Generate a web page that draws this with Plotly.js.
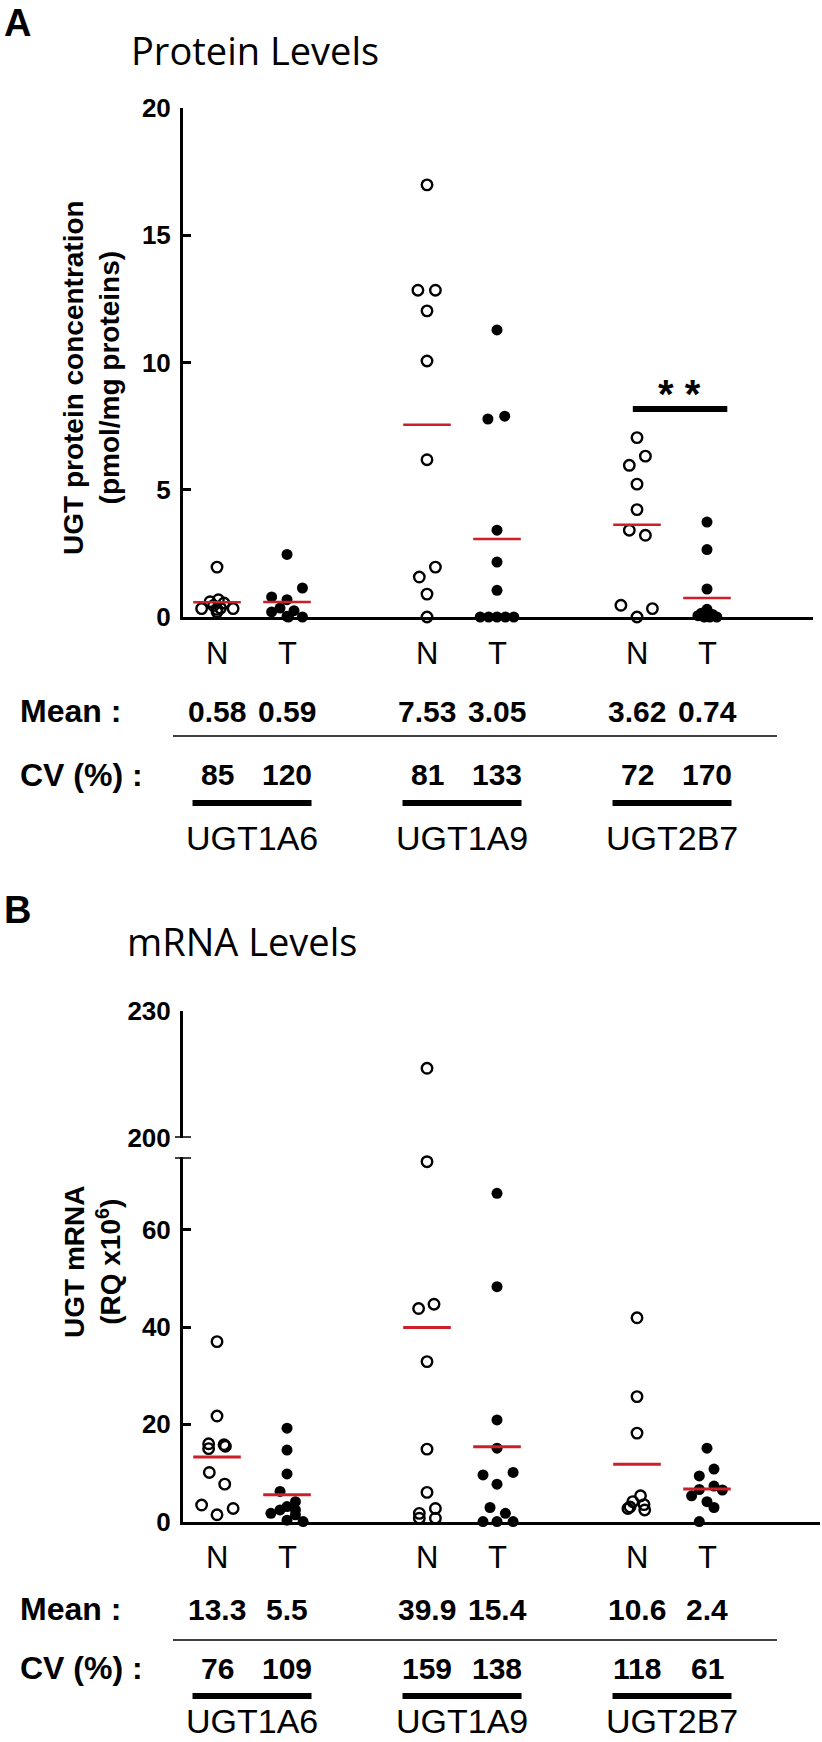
<!DOCTYPE html>
<html><head><meta charset="utf-8">
<script src="https://cdn.plot.ly/plotly-3.0.1.min.js"></script>
<style>html,body{margin:0;padding:0;background:#fff}#chart{width:822px;height:1742px}</style>
</head><body><div id="chart"></div>
<script>
// ---------------- DATA ----------------
const genes = ['UGT1A6', 'UGT1A9', 'UGT2B7'];
const tissueLabels = ['N', 'T', 'N', 'T', 'N', 'T'];

// Panel A : protein (pmol/mg proteins)
const prot_1A6_N = [1.96, 0.68, 0.60, 0.55, 0.45, 0.35, 0.33, 0.33, 0.30, 0.20];
const prot_1A6_T = [2.46, 1.14, 0.79, 0.68, 0.35, 0.25, 0.20, 0.03, 0.0, 0.0];
const prot_1A9_N = [16.98, 12.84, 12.84, 12.03, 10.06, 6.18, 1.96, 1.57, 0.90, 0.0];
const prot_1A9_T = [11.28, 7.89, 7.78, 3.41, 2.16, 1.05, 0.0, 0.0, 0.0, 0.0, 0.0];
const prot_2B7_N = [7.05, 6.32, 5.96, 5.22, 4.22, 3.41, 3.21, 0.46, 0.33, 0.0];
const prot_2B7_T = [3.73, 2.65, 1.10, 0.30, 0.15, 0.10, 0.05, 0.0, 0.0, 0.0];
const protMeanLine = [0.58, 0.59, 7.55, 3.06, 3.62, 0.75];
const protMeanText = ['0.58', '0.59', '7.53', '3.05', '3.62', '0.74'];
const protCvText = ['85', '120', '81', '133', '72', '170'];
const protSigBar = 8.17;

// Panel B : mRNA (RQ x10^6)
const mrna_1A6_N = [37.0, 21.7, 16.0, 15.8, 15.5, 15.0, 10.1, 7.7, 3.4, 2.7, 1.4];
const mrna_1A6_T = [19.2, 14.7, 9.8, 6.2, 4.1, 3.1, 2.4, 2.4, 1.7, 1.4, 0.3, 0.0];
const mrna_1A9_N = [216.4, 74.0, 44.7, 43.8, 32.9, 14.9, 6.0, 2.7, 1.7, 0.7, 0.7];
const mrna_1A9_T = [67.5, 48.3, 20.9, 15.1, 10.1, 9.6, 7.7, 2.9, 1.7, 0.0, 0.0, 0.0];
const mrna_2B7_N = [41.9, 25.7, 18.2, 5.3, 4.1, 3.5, 3.0, 2.7, 2.4];
const mrna_2B7_T = [15.1, 10.8, 9.4, 7.3, 6.6, 6.5, 5.3, 4.1, 2.9, 0.0];
const mrnaMeanLine = [13.3, 5.5, 39.9, 15.4, 11.8, 6.7];
const mrnaMeanText = ['13.3', '5.5', '39.9', '15.4', '10.6', '2.4'];
const mrnaCvText = ['76', '109', '159', '138', '118', '61'];

// ---------------- LAYOUT HELPERS (positions / jitter) ----------------
const tissuePos = [1, 2, 4, 5, 7, 8];
const jitA = [
  [0, 0.02, -0.1, 0.1, -0.05, 0.05, -0.22, 0.23, 0, 0],
  [0, 0.22, -0.22, 0, -0.1, 0.1, -0.22, 0, 0.22, 0.02],
  [0, -0.13, 0.12, 0, 0, 0, 0.12, -0.11, 0, 0],
  [0, 0.11, -0.13, 0, 0, 0, -0.24, -0.12, 0, 0.12, 0.24],
  [0, 0.12, -0.11, 0, 0, -0.11, 0.12, -0.23, 0.22, 0],
  [0, 0, 0, 0, -0.08, 0.08, -0.13, 0.14, -0.04, 0.04]
];
const jitB = [
  [0, 0, -0.12, 0.1, 0.12, -0.12, -0.11, 0.11, -0.22, 0.23, 0],
  [0, 0, 0, -0.1, 0.12, 0, -0.1, 0.12, -0.23, 0.12, 0, 0.23],
  [0, 0, 0.1, -0.12, 0, 0, 0, 0.12, -0.11, -0.11, 0.12],
  [0, 0, 0, 0, 0.23, -0.2, 0, -0.1, 0.12, -0.2, 0, 0.23],
  [0, 0, 0, 0.05, -0.06, 0.1, -0.1, -0.13, 0.11],
  [0, 0.1, -0.11, 0.1, -0.11, 0.22, -0.22, 0, 0.1, -0.11]
];
const protSets = [prot_1A6_N, prot_1A6_T, prot_1A9_N, prot_1A9_T, prot_2B7_N, prot_2B7_T];
const mrnaSets = [mrna_1A6_N, mrna_1A6_T, mrna_1A9_N, mrna_1A9_T, mrna_2B7_N, mrna_2B7_T];

const W = 822, H = 1742;
const px = v => v / W;
const py = v => 1 - v / H;
const FONT = 'Liberation Sans, Arial, sans-serif';
const TITLEFONT = 'Open Sans, Noto Sans, sans-serif';
const RED = '#cc1f27';
const groupCentre = [0, 1, 2].map(i => (tissuePos[2 * i] + tissuePos[2 * i + 1]) / 2);

function markerFor(i) {
  return i % 2 === 0
    ? {symbol: 'circle-open', size: 10.5, color: '#000', line: {width: 2.4, color: '#000'}}
    : {symbol: 'circle', size: 11, color: '#000', line: {width: 0}};
}

const traces = [];
protSets.forEach((vals, i) => {
  traces.push({
    type: 'scatter', mode: 'markers', xaxis: 'x', yaxis: 'y',
    x: vals.map((v, k) => tissuePos[i] + jitA[i][k]), y: vals,
    marker: markerFor(i), cliponaxis: false, hoverinfo: 'y', showlegend: false
  });
});
{
  const xs = [], ys = [];
  protMeanLine.forEach((m, i) => { xs.push(tissuePos[i] - 0.34, tissuePos[i] + 0.34, null); ys.push(m, m, null); });
  traces.push({type: 'scatter', mode: 'lines', xaxis: 'x', yaxis: 'y', x: xs, y: ys,
    line: {color: RED, width: 2.5}, cliponaxis: false, hoverinfo: 'skip', showlegend: false});
}
mrnaSets.forEach((vals, i) => {
  const lowX = [], lowY = [], upX = [], upY = [];
  vals.forEach((v, k) => {
    const xv = tissuePos[i] + jitB[i][k];
    if (v >= 200) { upX.push(xv); upY.push(v); } else { lowX.push(xv); lowY.push(v); }
  });
  traces.push({type: 'scatter', mode: 'markers', xaxis: 'x2', yaxis: 'y2', x: lowX, y: lowY,
    marker: markerFor(i), cliponaxis: false, hoverinfo: 'y', showlegend: false});
  if (upX.length) traces.push({type: 'scatter', mode: 'markers', xaxis: 'x2', yaxis: 'y3', x: upX, y: upY,
    marker: markerFor(i), cliponaxis: false, hoverinfo: 'y', showlegend: false});
});
{
  const xs = [], ys = [];
  mrnaMeanLine.forEach((m, i) => { xs.push(tissuePos[i] - 0.34, tissuePos[i] + 0.34, null); ys.push(m, m, null); });
  traces.push({type: 'scatter', mode: 'lines', xaxis: 'x2', yaxis: 'y2', x: xs, y: ys,
    line: {color: RED, width: 3}, cliponaxis: false, hoverinfo: 'skip', showlegend: false});
}

const yTickFont = {family: FONT, size: 26, color: '#000', weight: 'bold'};

function xAxis(anchor, rightPx) {
  return {domain: [px(183), px(rightPx)], range: [0.514, 1 + (rightPx - 217) / 70], anchor: anchor,
    showline: true, linewidth: 3, linecolor: '#000', ticks: '', showticklabels: false,
    showgrid: false, zeroline: false, fixedrange: true};
}
function yAxis(domain, range, tickvals, anchor) {
  return {domain: domain, range: range, anchor: anchor, showline: true, linewidth: 3, linecolor: '#000',
    ticks: 'inside', ticklen: 8, tickwidth: 3, tickcolor: '#000', tickvals: tickvals, tickfont: yTickFont,
    ticklabelstandoff: 4, showgrid: false, zeroline: false, fixedrange: true};
}

const layout = {
  width: W, height: H, margin: {l: 0, r: 0, t: 0, b: 0}, paper_bgcolor: '#fff', plot_bgcolor: 'rgba(0,0,0,0)',
  showlegend: false, font: {family: FONT, color: '#000'},
  xaxis: xAxis('y', 813),
  yaxis: yAxis([py(617), py(108)], [0, 20], [0, 5, 10, 15, 20], 'x'),
  xaxis2: xAxis('y2', 820),
  yaxis2: yAxis([py(1521.6), py(1157.3)], [0, 74.9], [0, 20, 40, 60], 'x2'),
  yaxis3: yAxis([py(1137.7), py(1010.7)], [200, 230], [200, 230], 'x2'),
  shapes: [], annotations: []
};

const S = layout.shapes, A = layout.annotations;
S.push({type: 'line', xref: 'paper', yref: 'paper', x0: px(173), x1: px(777), y0: py(736), y1: py(736), line: {color: '#000', width: 1.5}});
S.push({type: 'line', xref: 'paper', yref: 'paper', x0: px(173), x1: px(777), y0: py(1640), y1: py(1640), line: {color: '#000', width: 1.5}});
groupCentre.forEach(g => {
  S.push({type: 'line', xref: 'x', yref: 'paper', x0: g - 0.85, x1: g + 0.85, y0: py(803), y1: py(803), line: {color: '#000', width: 6}});
  S.push({type: 'line', xref: 'x2', yref: 'paper', x0: g - 0.85, x1: g + 0.85, y0: py(1696), y1: py(1696), line: {color: '#000', width: 6}});
});
S.push({type: 'line', xref: 'x', yref: 'y', x0: 6.94, x1: 8.29, y0: protSigBar, y1: protSigBar, line: {color: '#000', width: 6}});
S.push({type: 'line', xref: 'paper', yref: 'y2', x0: px(175), x1: px(191), y0: 74.9, y1: 74.9, line: {color: '#000', width: 3}});
S.push({type: 'line', xref: 'paper', yref: 'y3', x0: px(175), x1: px(191), y0: 200, y1: 200, line: {color: '#000', width: 3}});

function txt(text, x, y, font, opts) {
  A.push(Object.assign({text: text, x: x, y: y, xref: 'paper', yref: 'paper', showarrow: false,
    xanchor: 'center', yanchor: 'middle', font: font}, opts || {}));
}
const bold = (s) => ({family: FONT, size: s, color: '#000', weight: 'bold'});
const plain = (s, fam) => ({family: fam || FONT, size: s, color: '#000'});

txt('A', px(2), py(0), bold(38), {xanchor: 'left', yanchor: 'top'});
txt('B', px(2), py(910), bold(38), {xanchor: 'left'});
txt('Protein Levels', px(129), py(50), plain(38, TITLEFONT), {xanchor: 'left'});
txt('mRNA Levels', px(125), py(941), plain(38, TITLEFONT), {xanchor: 'left'});
txt('UGT protein concentration<br>(pmol/mg proteins)', px(91), py(378), bold(28), {textangle: -90});
txt('UGT mRNA<br>(RQ x10<sup>6</sup>)', px(92), py(1262), bold(28), {textangle: -90});
txt('* *', 7.6, py(394), bold(40), {xref: 'x'});

function tableRows(xref, meanText, cvText, yTissue, yMean, yCv, yGene) {
  tissuePos.forEach((p, i) => {
    txt(tissueLabels[i], p, py(yTissue), plain(31), {xref: xref});
  });
  txt('Mean :', px(18), py(yMean), bold(32), {xanchor: 'left'});
  txt('CV (%) :', px(18), py(yCv), bold(32), {xanchor: 'left'});
  tissuePos.forEach((p, i) => {
    txt(meanText[i], p, py(yMean), bold(30), {xref: xref});
    txt(cvText[i], p, py(yCv), bold(30), {xref: xref});
  });
  groupCentre.forEach((g, i) => {
    txt(genes[i], g, py(yGene), plain(34), {xref: xref});
  });
}
tableRows('x', protMeanText, protCvText, 653, 711, 775, 838);
tableRows('x2', mrnaMeanText, mrnaCvText, 1557, 1609, 1668, 1721);

Plotly.newPlot('chart', traces, layout, {staticPlot: true, displayModeBar: false});
</script></body></html>
